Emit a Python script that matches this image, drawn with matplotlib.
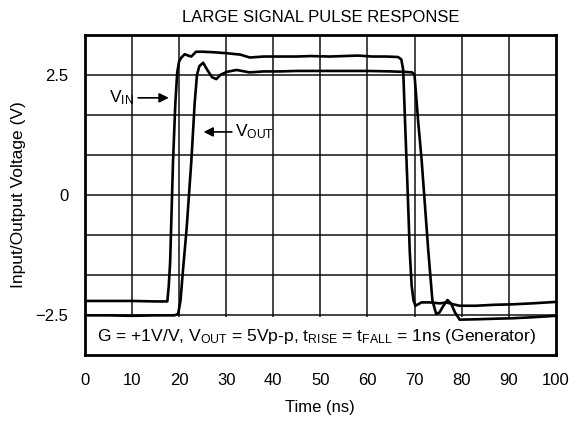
import matplotlib
matplotlib.use("Agg")
import matplotlib.pyplot as plt
from matplotlib.patches import Rectangle

plt.rcParams['font.family'] = ['Liberation Sans', 'DejaVu Sans']
plt.rcParams['mathtext.fontset'] = 'custom'
plt.rcParams['mathtext.rm'] = 'Liberation Sans'
plt.rcParams['mathtext.it'] = 'Liberation Sans'
plt.rcParams['mathtext.default'] = 'regular'

# input pulse (generator)
t_in = [0, 5, 10, 15, 17.5, 17.8, 18.1, 18.7, 19.2, 19.6, 20.0, 20.5, 21.2, 21.9,
        22.6, 23.6, 25, 27.2, 30, 33, 35, 38, 41.4, 45, 48, 52, 55, 58, 61, 64,
        66.5, 67.2, 67.6, 68.0, 68.5, 69.0, 69.4, 69.8, 70.2, 71.5, 73.2, 75.4,
        76.8, 78.2, 79.6, 83, 87, 90.9, 95, 100]
v_in = [-2.21, -2.21, -2.21, -2.22, -2.22, -1.9, -1.4, 0.67, 1.9, 2.55, 2.78,
        2.86, 2.93, 2.90, 2.88, 2.98, 2.98, 2.97, 2.95, 2.92, 2.86, 2.88, 2.88,
        2.88, 2.89, 2.88, 2.89, 2.90, 2.88, 2.88, 2.87, 2.82, 2.6, 1.5, 0.2,
        -1.2, -1.9, -2.2, -2.31, -2.24, -2.24, -2.26, -2.24, -2.28, -2.31,
        -2.31, -2.29, -2.28, -2.26, -2.23]

# output of the amplifier
t_out = [0, 5, 10, 15, 19.0, 19.8, 20.3, 20.8, 21.6, 22.6, 23.3, 23.8, 24.3,
         25.1, 26.0, 27.0, 27.9, 28.8, 30.1, 32.2, 35.0, 38, 41.4, 45, 50, 55,
         60, 65, 68, 69.5, 70.0, 70.8, 71.5, 72.9, 73.8, 74.6, 75.3, 76.2, 77.0,
         77.8, 78.6, 79.6, 83.9, 87, 90.9, 95, 100]
v_out = [-2.51, -2.51, -2.52, -2.51, -2.51, -2.48, -2.2, -1.6, -0.7, 0.7, 1.9,
         2.5, 2.68, 2.75, 2.6, 2.45, 2.41, 2.5, 2.56, 2.60, 2.55, 2.57, 2.57,
         2.58, 2.58, 2.58, 2.58, 2.57, 2.56, 2.55, 2.5, 1.5, 0.74, -1.13, -2.2,
         -2.48, -2.45, -2.3, -2.19, -2.27, -2.45, -2.6, -2.59, -2.58, -2.57,
         -2.55, -2.52]

xticks = list(range(0, 101, 10))
yticks = [-2.5, 0, 2.5]
ytick_labels = ['\u22122.5', '0', '2.5']
div = 2.5 / 3
ygrid = [i * div for i in range(-3, 4)]

fig = plt.figure(figsize=(5.7, 4.24), dpi=100)
ax = fig.add_axes([0.149, 0.163, 0.826, 0.755])

ax.set_xlim(0, 100)
ax.set_ylim(-4 * div, 4 * div)

for x in xticks[1:-1]:
    ax.axvline(x, color='#111111', lw=1.1, zorder=1)
for y in ygrid:
    ax.axhline(y, color='#111111', lw=1.1, zorder=1)

# white strip for the test condition note
ax.add_patch(Rectangle((0, -4 * div), 100, 4 * div - 2.55, facecolor='white',
                       edgecolor='none', zorder=2))

ax.plot(t_in, v_in, color='black', lw=1.9, zorder=3)
ax.plot(t_out, v_out, color='black', lw=1.9, zorder=3)

ax.set_xticks(xticks)
ax.set_yticks(yticks)
ax.set_yticklabels(ytick_labels)
ax.tick_params(axis='x', direction='in', length=3, width=1, pad=13, labelsize=12)
ax.tick_params(axis='y', length=0, pad=12, labelsize=12)
for s in ax.spines.values():
    s.set_linewidth(2)

ax.set_xlabel('Time (ns)', fontsize=12, labelpad=9)
ax.set_ylabel('Input/Output Voltage (V)', fontsize=12.5, labelpad=7)
ax.set_title('LARGE SIGNAL PULSE RESPONSE', fontsize=12, pad=9)

ax.annotate('', xy=(18.4, 2.02), xytext=(10.7, 2.02),
            arrowprops=dict(arrowstyle='-|>', color='black', lw=1.2,
                            mutation_scale=14), zorder=4)
ax.text(10.4, 2.02, '$V_{IN}$', fontsize=12.5, ha='right', va='center', zorder=4)
ax.annotate('', xy=(24.6, 1.31), xytext=(31.8, 1.31),
            arrowprops=dict(arrowstyle='-|>', color='black', lw=1.2,
                            mutation_scale=14), zorder=4)
ax.text(31.9, 1.31, '$V_{OUT}$', fontsize=12.5, ha='left', va='center', zorder=4)

ax.text(49.2, -2.96,
        'G = +1V/V, $V_{OUT}$ = 5Vp-p, $t_{RISE}$ = $t_{FALL}$ = 1ns (Generator)',
        fontsize=12.6, ha='center', va='center', zorder=4)

fig.savefig('out.png', dpi=100)
